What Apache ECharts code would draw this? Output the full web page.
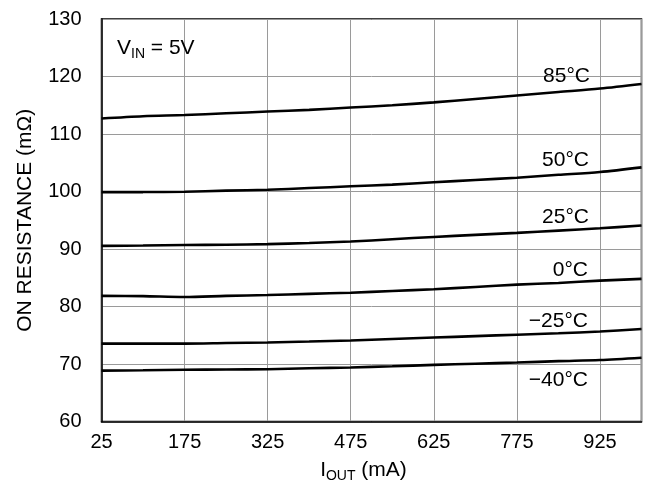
<!DOCTYPE html>
<html>
<head>
<meta charset="utf-8">
<script src="https://cdn.jsdelivr.net/npm/echarts@6/dist/echarts.min.js"></script>
<style>html,body{margin:0;padding:0;background:#fff}#c{width:647px;height:489px}</style>
</head>
<body>
<div id="c"></div>
<script>
var currents = [25, 100, 175, 250, 325, 400, 475, 550, 625, 700, 775, 850, 925, 1000];
var xTicks = [25, 175, 325, 475, 625, 775, 925];
var yTicks = [60, 70, 80, 90, 100, 110, 120, 130];
var seriesNames = ['85°C', '50°C', '25°C', '0°C', '\u221225°C', '\u221240°C'];
var r85 = [112.7, 113.1, 113.3, 113.6, 113.9, 114.2, 114.6, 115.0, 115.5, 116.1, 116.7, 117.3, 117.9, 118.7];
var r50 = [99.9, 99.9, 99.95, 100.15, 100.3, 100.6, 100.9, 101.2, 101.6, 102.0, 102.4, 102.9, 103.4, 104.2];
var r25 = [90.55, 90.6, 90.7, 90.75, 90.85, 91.05, 91.3, 91.7, 92.1, 92.45, 92.8, 93.2, 93.6, 94.1];
var r0 = [81.85, 81.8, 81.65, 81.85, 82.0, 82.2, 82.4, 82.7, 83.0, 83.4, 83.8, 84.1, 84.5, 84.8];
var rm25 = [73.55, 73.55, 73.55, 73.65, 73.75, 73.9, 74.1, 74.35, 74.6, 74.85, 75.1, 75.35, 75.65, 76.1];
var rm40 = [68.85, 68.9, 69.0, 69.05, 69.1, 69.25, 69.4, 69.6, 69.85, 70.05, 70.25, 70.5, 70.7, 71.1];
var allSeries = [r85, r50, r25, r0, rm25, rm40];

var FONT = 'Liberation Sans, Arial, sans-serif';
var chart = echarts.init(document.getElementById('c'), null, {renderer: 'canvas'});

var labelPos = [[590, 76], [589, 160], [589, 217], [588, 270.5], [588, 321], [588, 380]];

var series = allSeries.map(function (vals, i) {
  return {
    name: seriesNames[i],
    type: 'line',
    data: currents.map(function (x, j) { return [x, vals[j]]; }),
    showSymbol: false,
    smooth: 0.3,
    lineStyle: {color: '#000', width: 2.6},
    z: 5
  };
});

var graphics = seriesNames.map(function (n, i) {
  return {
    type: 'text',
    x: labelPos[i][0],
    y: labelPos[i][1],
    style: {text: n, font: '21px ' + FONT, fill: '#000', align: 'right', verticalAlign: 'middle'},
    z: 10
  };
});
graphics.push({
  type: 'text',
  x: 117,
  y: 48,
  style: {
    text: '{m|V}{s|IN}{m| = 5V}',
    verticalAlign: 'middle',
    rich: {
      m: {fontSize: 21, fontFamily: FONT, color: '#000', lineHeight: 26},
      s: {fontSize: 14, fontFamily: FONT, color: '#000', lineHeight: 14, padding: [12, 0, 0, 0]}
    }
  },
  z: 10
});

chart.setOption({
  animation: false,
  backgroundColor: '#fff',
  grid: {left: 101.5, right: 5.5, top: 19, bottom: 67.5, show: true, borderColor: '#000', borderWidth: 1.5, containLabel: false},
  xAxis: {
    type: 'value',
    min: 25,
    max: 1000,
    interval: 150,
    name: '{m|I}{s|OUT}{m| (mA)}',
    nameLocation: 'middle',
    nameGap: 36,
    nameTextStyle: {
      padding: [0, 16, 0, 0],
      rich: {
        m: {fontSize: 21, fontFamily: FONT, color: '#000', lineHeight: 26},
        s: {fontSize: 14, fontFamily: FONT, color: '#000', lineHeight: 14, padding: [12, 0, 0, 0]}
      }
    },
    axisLine: {show: true, lineStyle: {color: '#000', width: 1.5}},
    axisTick: {show: false},
    axisLabel: {
      fontSize: 20, fontFamily: FONT, color: '#000', margin: 11,
      showMaxLabel: false,
      formatter: function (v) { return xTicks.indexOf(v) >= 0 ? String(v) : ''; }
    },
    splitLine: {show: true, lineStyle: {color: '#9a9a9a', width: 1}}
  },
  yAxis: {
    type: 'value',
    min: yTicks[0],
    max: yTicks[yTicks.length - 1],
    interval: 10,
    name: 'ON RESISTANCE (m\u03A9)',
    nameLocation: 'middle',
    nameGap: 66,
    nameTextStyle: {fontSize: 21, fontFamily: FONT, color: '#000'},
    axisLine: {show: true, lineStyle: {color: '#000', width: 1.5}},
    axisTick: {show: false},
    axisLabel: {fontSize: 20, fontFamily: FONT, color: '#000', margin: 20},
    splitLine: {show: true, lineStyle: {color: '#9a9a9a', width: 1}}
  },
  series: series,
  graphic: graphics
});
</script>
</body>
</html>
